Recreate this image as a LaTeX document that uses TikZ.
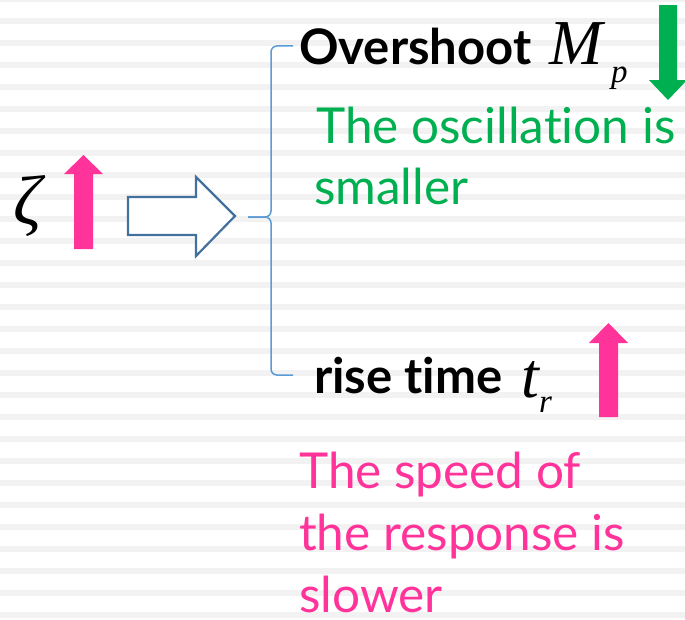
\documentclass[tikz,border=0pt]{standalone}
\usepackage{fontspec}
\setmainfont{Lato}[Ligatures={NoCommon,NoContextual}]
\newfontfamily\tnr{Liberation Serif}
\usetikzlibrary{positioning}
\definecolor{hot}{HTML}{FF3399}
\definecolor{grn}{HTML}{00B050}
\definecolor{brc}{HTML}{5B9BD5}
\definecolor{outl}{HTML}{41719C}
\definecolor{stripe}{HTML}{F2F2F2}

\begin{document}
\begin{tikzpicture}[x=1pt, y=-1pt]
  \tikzstyle{lbl}=[anchor=base west, inner sep=0pt, font=\fontsize{49}{58}\selectfont\bfseries]
  \tikzstyle{note}=[anchor=base west, inner sep=0pt, font=\fontsize{49.5}{60}\selectfont]
  \tikzstyle{sym}=[anchor=base west, inner sep=0pt, font=\fontsize{64}{64}\selectfont\tnr\itshape]
  \tikzstyle{sub}=[anchor=base west, inner sep=0pt, font=\fontsize{33}{33}\selectfont\tnr\itshape]
  \tikzstyle{brace}=[draw=brc, line width=1.5pt, rounded corners=6pt]

  \useasboundingbox (0,0) rectangle (685,619);
  % striped background
  \foreach \k in {0,...,28}
    \fill[stripe] (0,-4+22*\k) rectangle (685,2+22*\k);

  % damping ratio goes up
  \node[sym, font=\fontsize{70}{70}\selectfont\tnr\itshape](zeta) at (13,224){ζ};
  \fill[hot] (74,249) -- (74,174) -- (64,174) -- (83.5,155) -- (103,174) -- (93,174) -- (93,249) -- cycle;

  % hollow block arrow
  \draw[outl, line width=2.2pt, fill=white] (128,197) -- (196,197) -- (196,177) -- (235,216)
    -- (196,256) -- (196,235) -- (128,235) -- cycle;

  % labels
  \node[lbl](over) at (299,64){Overshoot};
  \node[sym](mp) at (549,64){M};
  \node[sub](mpsub) at (611,82){p};
  \fill[grn] (659,5) -- (677,5) -- (677,80) -- (687,80) -- (668,100) -- (649,80) -- (659,80) -- cycle;
  \node[note, text=grn](osc1) at (316,143){The oscillation is};
  \node[note, text=grn](osc2) at (314,204){smaller};

  \node[lbl](rise) at (314,393){rise time};
  \node[sym](tr) at (521,397){t};
  \node[sub](trsub) at (539,412){r};
  \fill[hot] (599,417) -- (599,343) -- (589,343) -- (608.5,323) -- (628,343) -- (618,343) -- (618,417) -- cycle;
  \node[note, text=hot](spd1) at (299,488){The speed of};
  \node[note, text=hot](spd2) at (299,550){the response is};
  \node[note, text=hot](spd3) at (299,612){slower};

  % brace
  \coordinate (tip) at (248,217);
  \coordinate (spine) at (271,217);
  \draw[brace] ([xshift=-6pt]over.west) -| (spine) -- (tip);
  \draw[brace] (tip) -- (spine) |- ([xshift=-21pt]rise.west);
\end{tikzpicture}
\end{document}
